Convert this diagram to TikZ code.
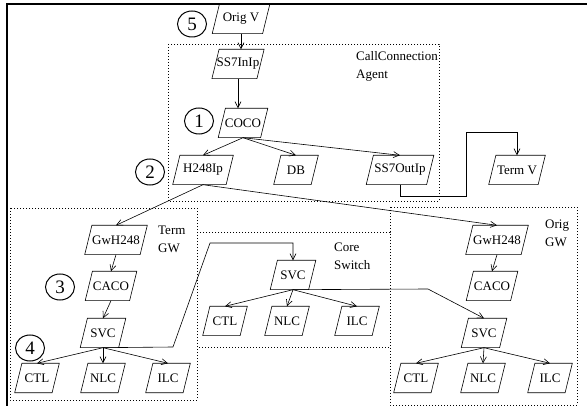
\documentclass[tikz,border=0pt]{standalone}
\usepackage{fontspec}
\setmainfont{Liberation Serif}
\usetikzlibrary{shapes.geometric,arrows.meta}
\begin{document}
\begin{tikzpicture}[x=1pt,y=-1pt,
  box/.style={rectangle, minimum height=29pt, minimum width=37pt,
    inner xsep=1pt, inner ysep=0pt,
    font=\fontsize{13}{15}\selectfont},
  num/.style={draw, ellipse, line width=1pt, minimum width=29pt, minimum height=26pt,
    inner sep=0pt, font=\fontsize{19}{19}\selectfont},
  lbl/.style={anchor=north west, align=left, inner sep=0pt,
    font=\fontsize{13}{18}\selectfont},
  arr/.style={line width=0.6pt, -{Straight Barb[length=6pt,width=6pt]}},
  ln/.style={line width=0.6pt},
  dot/.style={line width=0.6pt, dash pattern=on 0.7pt off 2.3pt}]
\useasboundingbox (0,0) rectangle (587,406);
\draw[line width=2.5pt] (7,407) -- (7,4) -- (588,4);
% dotted groups
\draw[dot] (168,44) rectangle (439,201);
\draw[dot] (10,208) rectangle (197,400);
\draw[dot] (197,232) rectangle (390,347);
\draw[dot] (390,207) rectangle (577,405);
% labels
\node[lbl] (lcca) at (356,51) {CallConnection\\Agent};
\node[lbl] (lterm) at (158,226) {Term\\GW};
\node[lbl] (lcore) at (334,243) {Core\\Switch};
\node[lbl] (lorig) at (545,220) {Orig\\GW};
% numbers
\node[num] (c5) at (192,24) {5};
\node[num] (c1) at (199,121) {1};
\node[num] (c2) at (150,172) {2};
\node[num] (c3) at (60,287) {3};
\node[num] (c4) at (30,348) {4};
% nodes
\node[box, minimum width=50pt] (origv) at (241,19) {Orig V};
\node[box, minimum width=43pt] (ss7in) at (238,64) {SS7InIp};
\node[box, minimum width=42pt] (coco) at (243,123) {COCO};
\node[box, minimum width=53pt] (h248) at (203,170) {H248Ip};
\node[box] (db) at (296,170) {DB};
\node[box, minimum width=60pt] (ss7out) at (400,170) {SS7OutIp};
\node[box, minimum width=49pt] (termv) at (517,170) {Term V};
\node[box, minimum width=55pt] (gwT) at (116,240) {GwH248};
\node[box, minimum width=44pt] (cacoT) at (111,286) {CACO};
\node[box, minimum width=38pt] (svcT) at (103,333) {SVC};
\node[box] (ctlT) at (37,378) {CTL};
\node[box] (nlcT) at (103,378) {NLC};
\node[box] (ilcT) at (168,378) {ILC};
\node[box, minimum width=38pt] (svcC) at (293,275) {SVC};
\node[box] (ctlC) at (225,321) {CTL};
\node[box] (nlcC) at (287,321) {NLC};
\node[box] (ilcC) at (357,321) {ILC};
\node[box, minimum width=55pt] (gwO) at (497,240) {GwH248};
\node[box, minimum width=44pt] (cacoO) at (492,286) {CACO};
\node[box, minimum width=38pt] (svcO) at (484,333) {SVC};
\node[box] (ctlO) at (416,378) {CTL};
\node[box] (nlcO) at (483,378) {NLC};
\node[box] (ilcO) at (550,378) {ILC};
% parallelogram outlines
\foreach \n in {origv,ss7in,coco,h248,db,ss7out,termv,gwT,cacoT,svcT,ctlT,nlcT,ilcT,
  svcC,ctlC,nlcC,ilcC,gwO,cacoO,svcO,ctlO,nlcO,ilcO}
  \draw[ln] ([xshift=3.6pt]\n.north west) -- ([xshift=3.6pt]\n.north east)
    -- ([xshift=-3.6pt]\n.south east) -- ([xshift=-3.6pt]\n.south west) -- cycle;
% connectors
\draw[arr] (origv.south) -- (origv.south |- ss7in.north);
\draw[arr] (ss7in.south) -- (ss7in.south |- coco.north);
\draw[arr] (coco.south) -- (h248.north);
\draw[arr] (coco.south) -- (db.north);
\draw[arr] (coco.south) -- (ss7out.north);
\draw[arr] (ss7out.south) |- (466,196) -- (466,132) -| (termv.north);
\draw[arr] (h248.south) -- (gwT.north);
\draw[arr] (h248.south) -- (gwO.north);
\draw[arr] (gwT.south) -- (cacoT.north);
\draw[arr] (cacoT.south) -- (svcT.north);
\draw[arr] (svcT.south) -- (ctlT.north);
\draw[arr] (svcT.south) -- (nlcT.north);
\draw[arr] (svcT.south) -- (ilcT.north);
\draw[arr] (svcT.south) -- (173,347) -- (210,243) -| (svcC.north);
\draw[arr] (svcC.south) -- (ctlC.north);
\draw[arr] (svcC.south) -- (nlcC.north);
\draw[arr] (svcC.south) -- (ilcC.north);
\draw[arr] (svcC.south) -- (428,289) -- (svcO.north);
\draw[arr] (gwO.south) -- (cacoO.north);
\draw[arr] (svcO.south) -- (ctlO.north);
\draw[arr] (svcO.south) -- (nlcO.north);
\draw[arr] (svcO.south) -- (ilcO.north);
\end{tikzpicture}
\end{document}
